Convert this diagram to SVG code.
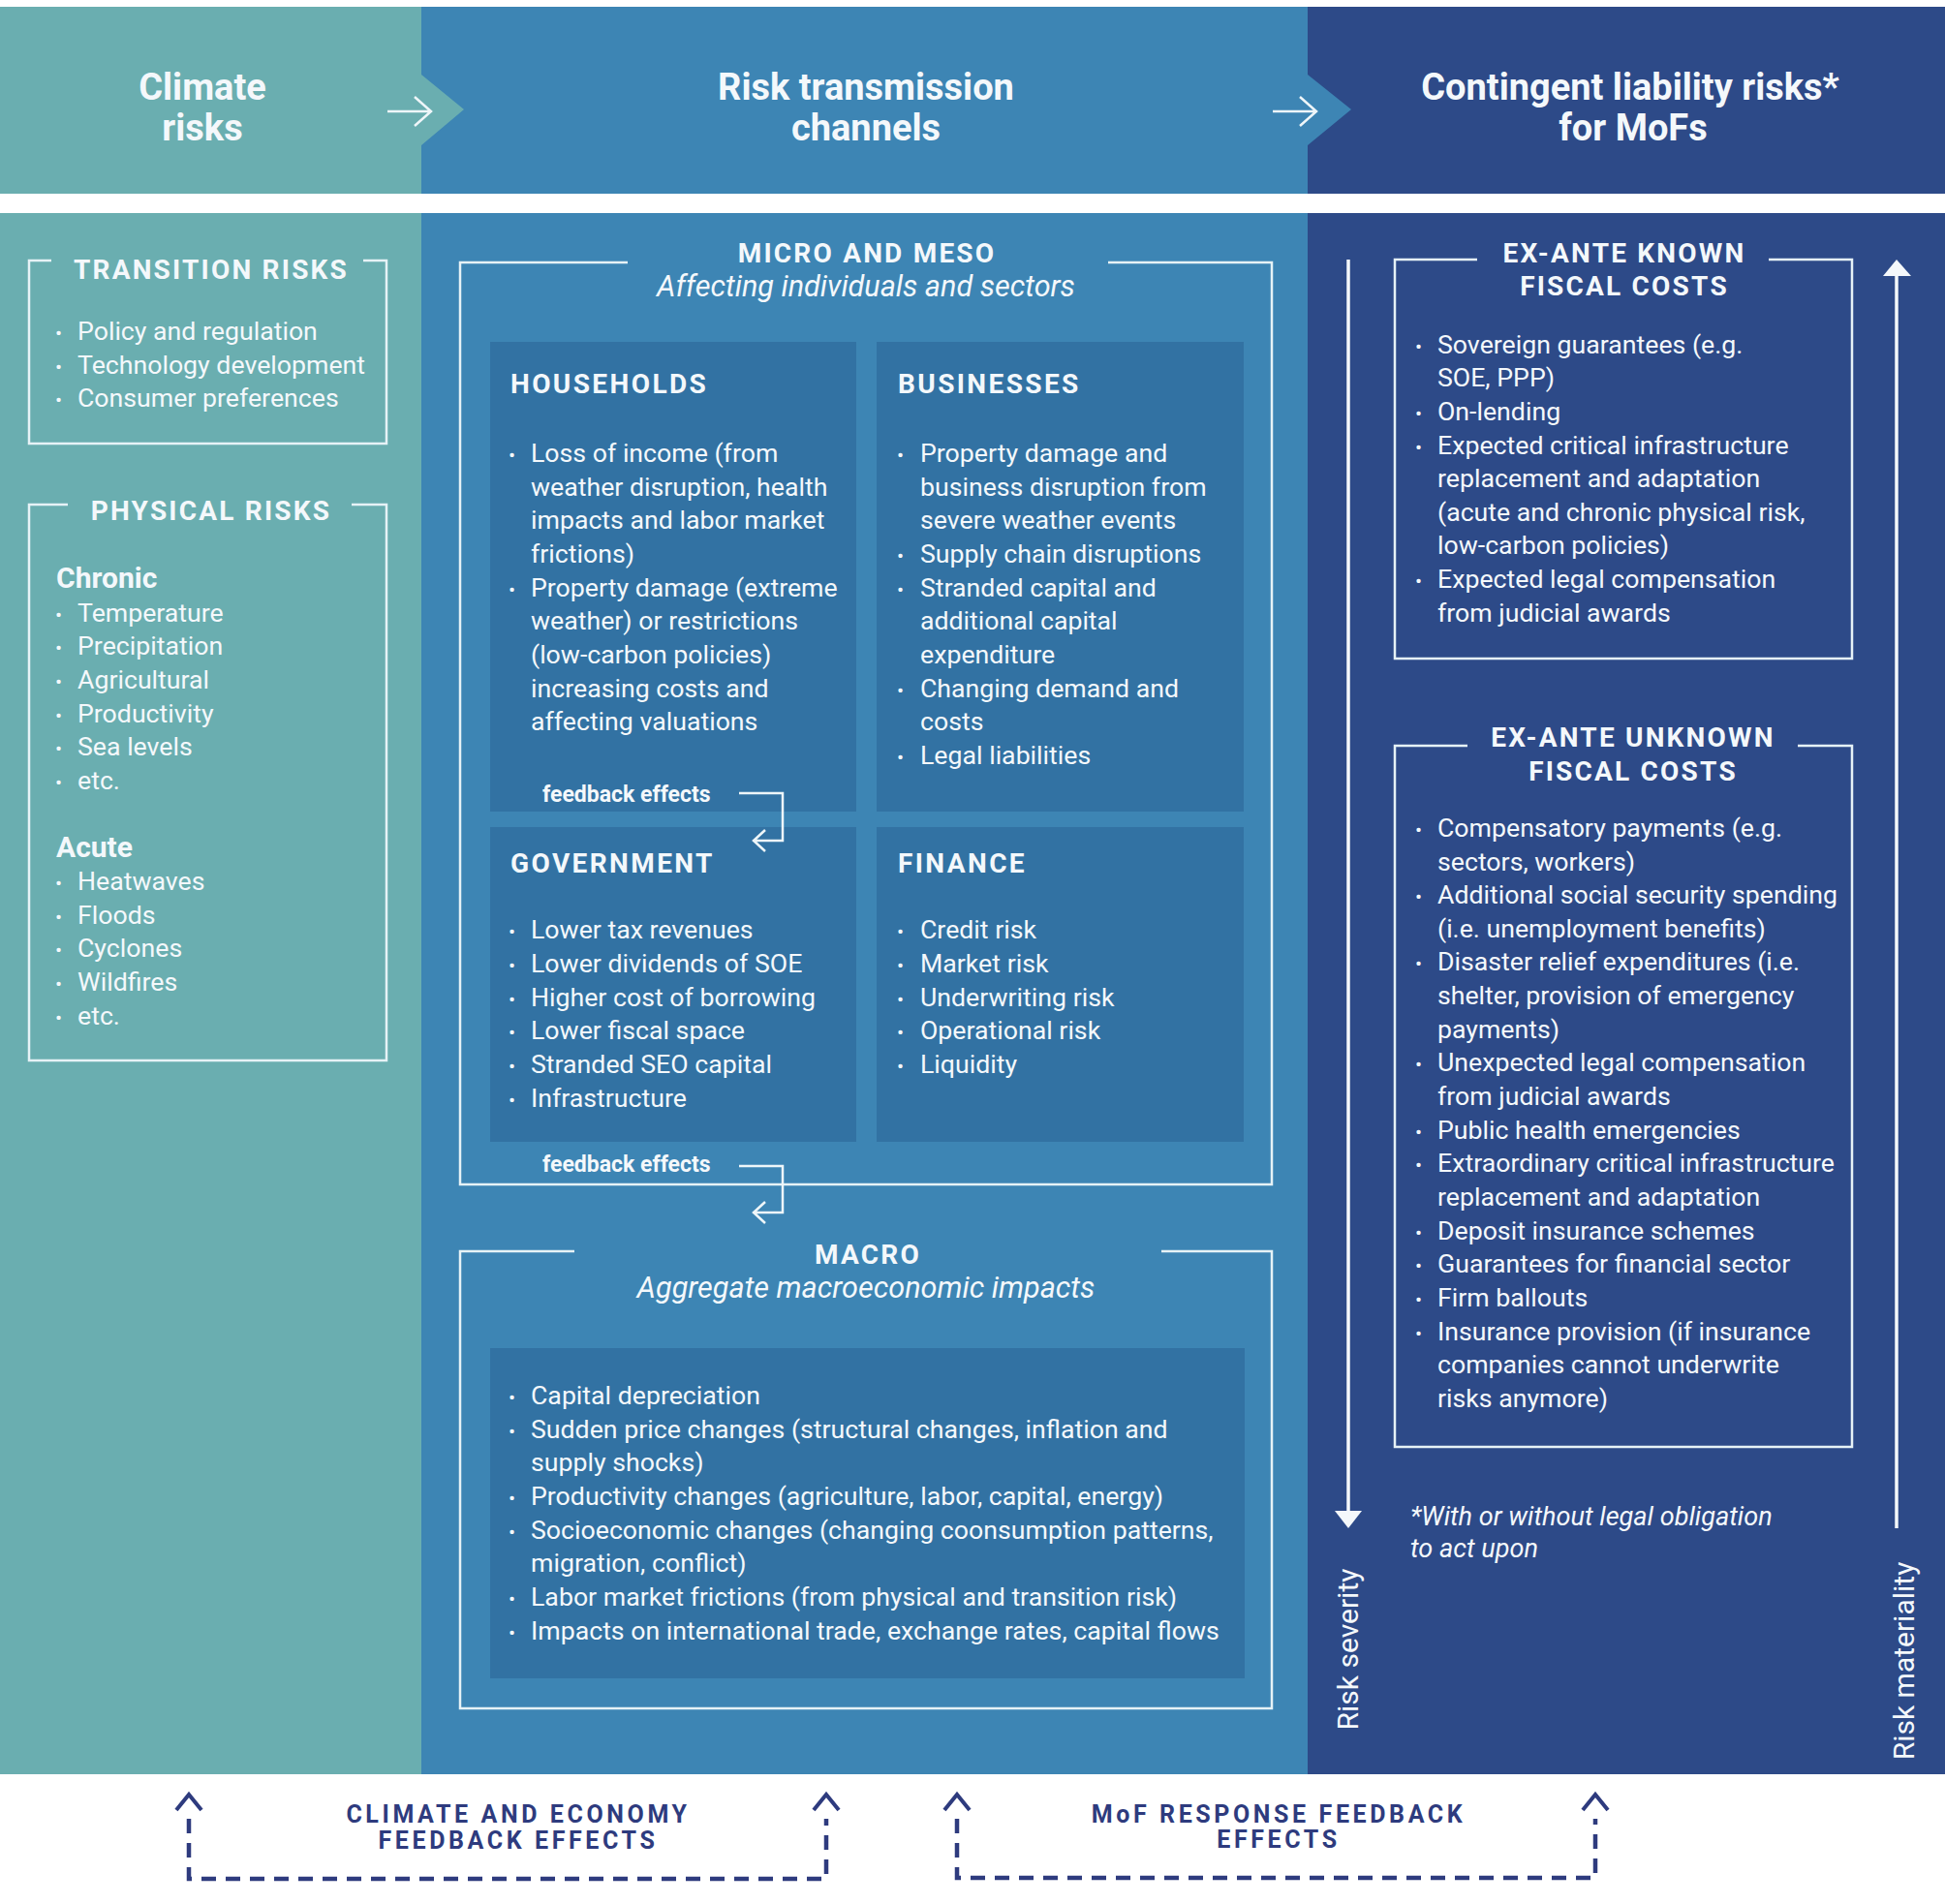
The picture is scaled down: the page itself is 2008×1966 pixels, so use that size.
<svg xmlns="http://www.w3.org/2000/svg" width="2008" height="1966" viewBox="0 0 2008 1966">
<style>
text{font-family:Roboto,"Liberation Sans",sans-serif;fill:#f4f8fb}
.hd{font-size:38px;font-weight:700;text-anchor:middle}
.t{font-size:26.7px}
.b{font-size:21px}
.lt{font-size:28px;font-weight:700;letter-spacing:2.2px;text-anchor:middle}
.sh{font-size:30px;font-weight:700}
.st{font-size:28px;font-weight:700;letter-spacing:2.4px}
.ct{font-size:28px;font-weight:700;letter-spacing:2.2px;text-anchor:middle}
.sub{font-size:30.6px;font-style:italic;text-anchor:middle}
.rt{font-size:28px;font-weight:700;letter-spacing:2.2px;text-anchor:middle}
.fb{font-size:23px;font-weight:700}
.it{font-size:27.1px;font-style:italic}
.rot{font-size:30px;text-anchor:middle}
.ft{font-size:25px;font-weight:700;letter-spacing:3.6px;text-anchor:middle;fill:#2e3b7e}
.ol{fill:none;stroke:#e6f2f6;stroke-width:2.5}
.con{fill:none;stroke:#eef6f9;stroke-width:2.5}
.dash{fill:none;stroke:#2e3b7e;stroke-width:4.5;stroke-dasharray:15 10}
.dh{fill:none;stroke:#2e3b7e;stroke-width:4}
.inner{fill:#3272a3}
</style>
<rect width="2008" height="1966" fill="#ffffff"/>

<!-- body columns -->
<g id="col-climate">
<rect x="0" y="220" width="436" height="1612" fill="#6aaeb0"/>
</g>
<g id="col-transmission">
<rect x="435" y="220" width="916" height="1612" fill="#3d85b4"/>
</g>
<g id="col-liability">
<rect x="1350" y="220" width="658" height="1612" fill="#2d4a88"/>
</g>

<!-- header -->
<g id="header">
<rect x="1350" y="7" width="658" height="193" fill="#2d4a88"/>
<polygon points="435,7 1350,7 1350,77 1395,113 1350,150 1350,200 435,200" fill="#3d85b4"/>
<polygon points="0,7 435,7 435,77 479,113 435,150 435,200 0,200" fill="#6aaeb0"/>
<text class="hd" x="209" y="103">Climate</text>
<text class="hd" x="209" y="145">risks</text>
<text class="hd" x="894" y="103">Risk transmission</text>
<text class="hd" x="894" y="145">channels</text>
<text class="hd" x="1683" y="103">Contingent liability risks*</text>
<text class="hd" x="1686" y="145">for MoFs</text>
<g class="con" stroke-width="3">
<path d="M400 115 H445 M428 100 L445 115 L428 130"/>
<path d="M1314 115 H1359 M1342 100 L1359 115 L1342 130"/>
</g>
</g>

<!-- left column -->
<g id="transition-risks">
<path class="ol" d="M53 269 H30 V458 H399 V269 H375"/>
<text class="lt" x="218" y="288">TRANSITION RISKS</text>
<text class="b" x="57" y="351">•</text><text class="t" x="80" y="351">Policy and regulation</text>
<text class="b" x="57" y="386">•</text><text class="t" x="80" y="386">Technology development</text>
<text class="b" x="57" y="420">•</text><text class="t" x="80" y="420">Consumer preferences</text>
</g>
<g id="physical-risks">
<path class="ol" d="M70 521 H30 V1095 H399 V521 H363"/>
<text class="lt" x="218" y="537">PHYSICAL RISKS</text>
<text class="sh" x="58" y="607">Chronic</text>
<text class="b" x="57" y="642">•</text><text class="t" x="80" y="642">Temperature</text>
<text class="b" x="57" y="676">•</text><text class="t" x="80" y="676">Precipitation</text>
<text class="b" x="57" y="711">•</text><text class="t" x="80" y="711">Agricultural</text>
<text class="b" x="57" y="746">•</text><text class="t" x="80" y="746">Productivity</text>
<text class="b" x="57" y="780">•</text><text class="t" x="80" y="780">Sea levels</text>
<text class="b" x="57" y="815">•</text><text class="t" x="80" y="815">etc.</text>
<text class="sh" x="58" y="885">Acute</text>
<text class="b" x="57" y="919">•</text><text class="t" x="80" y="919">Heatwaves</text>
<text class="b" x="57" y="954">•</text><text class="t" x="80" y="954">Floods</text>
<text class="b" x="57" y="988">•</text><text class="t" x="80" y="988">Cyclones</text>
<text class="b" x="57" y="1023">•</text><text class="t" x="80" y="1023">Wildfires</text>
<text class="b" x="57" y="1058">•</text><text class="t" x="80" y="1058">etc.</text>
</g>

<!-- middle column -->
<g id="micro-meso">
<path class="ol" d="M648 271 H475 V1223 H1313 V271 H1144"/>
<text class="ct" x="895" y="271">MICRO AND MESO</text>
<text class="sub" x="894" y="306">Affecting individuals and sectors</text>
</g>
<g id="households">
<rect class="inner" x="506" y="353" width="378" height="485"/>
<text class="st" x="527" y="406">HOUSEHOLDS</text>
<text class="b" x="525" y="477">•</text><text class="t" x="548" y="477">Loss of income (from</text>
<text class="t" x="548" y="512">weather disruption, health</text>
<text class="t" x="548" y="546">impacts and labor market</text>
<text class="t" x="548" y="581">frictions)</text>
<text class="b" x="525" y="616">•</text><text class="t" x="548" y="616">Property damage (extreme</text>
<text class="t" x="548" y="650">weather) or restrictions</text>
<text class="t" x="548" y="685">(low-carbon policies)</text>
<text class="t" x="548" y="720">increasing costs and</text>
<text class="t" x="548" y="754">affecting valuations</text>
</g>
<g id="businesses">
<rect class="inner" x="905" y="353" width="379" height="485"/>
<text class="st" x="927" y="406">BUSINESSES</text>
<text class="b" x="926" y="477">•</text><text class="t" x="950" y="477">Property damage and</text>
<text class="t" x="950" y="512">business disruption from</text>
<text class="t" x="950" y="546">severe weather events</text>
<text class="b" x="926" y="581">•</text><text class="t" x="950" y="581">Supply chain disruptions</text>
<text class="b" x="926" y="616">•</text><text class="t" x="950" y="616">Stranded capital and</text>
<text class="t" x="950" y="650">additional capital</text>
<text class="t" x="950" y="685">expenditure</text>
<text class="b" x="926" y="720">•</text><text class="t" x="950" y="720">Changing demand and</text>
<text class="t" x="950" y="754">costs</text>
<text class="b" x="926" y="789">•</text><text class="t" x="950" y="789">Legal liabilities</text>
</g>
<g id="government">
<rect class="inner" x="506" y="854" width="378" height="325"/>
<text class="st" x="527" y="901">GOVERNMENT</text>
<text class="b" x="525" y="969">•</text><text class="t" x="548" y="969">Lower tax revenues</text>
<text class="b" x="525" y="1004">•</text><text class="t" x="548" y="1004">Lower dividends of SOE</text>
<text class="b" x="525" y="1039">•</text><text class="t" x="548" y="1039">Higher cost of borrowing</text>
<text class="b" x="525" y="1073">•</text><text class="t" x="548" y="1073">Lower fiscal space</text>
<text class="b" x="525" y="1108">•</text><text class="t" x="548" y="1108">Stranded SEO capital</text>
<text class="b" x="525" y="1143">•</text><text class="t" x="548" y="1143">Infrastructure</text>
</g>
<g id="finance">
<rect class="inner" x="905" y="854" width="379" height="325"/>
<text class="st" x="927" y="901">FINANCE</text>
<text class="b" x="926" y="969">•</text><text class="t" x="950" y="969">Credit risk</text>
<text class="b" x="926" y="1004">•</text><text class="t" x="950" y="1004">Market risk</text>
<text class="b" x="926" y="1039">•</text><text class="t" x="950" y="1039">Underwriting risk</text>
<text class="b" x="926" y="1073">•</text><text class="t" x="950" y="1073">Operational risk</text>
<text class="b" x="926" y="1108">•</text><text class="t" x="950" y="1108">Liquidity</text>
</g>
<g id="macro">
<path class="ol" d="M593 1292 H475 V1764 H1313 V1292 H1199"/>
<text class="ct" x="896" y="1305">MACRO</text>
<text class="sub" x="894" y="1340">Aggregate macroeconomic impacts</text>
<rect class="inner" x="506" y="1392" width="779" height="341"/>
<text class="b" x="525" y="1450">•</text><text class="t" x="548" y="1450">Capital depreciation</text>
<text class="b" x="525" y="1485">•</text><text class="t" x="548" y="1485">Sudden price changes (structural changes, inflation and</text>
<text class="t" x="548" y="1519">supply shocks)</text>
<text class="b" x="525" y="1554">•</text><text class="t" x="548" y="1554">Productivity changes (agriculture, labor, capital, energy)</text>
<text class="b" x="525" y="1589">•</text><text class="t" x="548" y="1589">Socioeconomic changes (changing coonsumption patterns,</text>
<text class="t" x="548" y="1623">migration, conflict)</text>
<text class="b" x="525" y="1658">•</text><text class="t" x="548" y="1658">Labor market frictions (from physical and transition risk)</text>
<text class="b" x="525" y="1693">•</text><text class="t" x="548" y="1693">Impacts on international trade, exchange rates, capital flows</text>
</g>

<!-- right column -->
<g id="known-costs">
<path class="ol" d="M1525 268 H1440 V680 H1912 V268 H1826"/>
<text class="rt" x="1677" y="271">EX-ANTE KNOWN</text>
<text class="rt" x="1677" y="305">FISCAL COSTS</text>
<text class="b" x="1461" y="365">•</text><text class="t" x="1484" y="365">Sovereign guarantees (e.g.</text>
<text class="t" x="1484" y="399">SOE, PPP)</text>
<text class="b" x="1461" y="434">•</text><text class="t" x="1484" y="434">On-lending</text>
<text class="b" x="1461" y="469">•</text><text class="t" x="1484" y="469">Expected critical infrastructure</text>
<text class="t" x="1484" y="503">replacement and adaptation</text>
<text class="t" x="1484" y="538">(acute and chronic physical risk,</text>
<text class="t" x="1484" y="572">low-carbon policies)</text>
<text class="b" x="1461" y="607">•</text><text class="t" x="1484" y="607">Expected legal compensation</text>
<text class="t" x="1484" y="642">from judicial awards</text>
</g>
<g id="unknown-costs">
<path class="ol" d="M1515 770 H1440 V1494 H1912 V770 H1856"/>
<text class="rt" x="1686" y="771">EX-ANTE UNKNOWN</text>
<text class="rt" x="1686" y="806">FISCAL COSTS</text>
<text class="b" x="1461" y="864">•</text><text class="t" x="1484" y="864">Compensatory payments (e.g.</text>
<text class="t" x="1484" y="899">sectors, workers)</text>
<text class="b" x="1461" y="933">•</text><text class="t" x="1484" y="933">Additional social security spending</text>
<text class="t" x="1484" y="968">(i.e. unemployment benefits)</text>
<text class="b" x="1461" y="1002">•</text><text class="t" x="1484" y="1002">Disaster relief expenditures (i.e.</text>
<text class="t" x="1484" y="1037">shelter, provision of emergency</text>
<text class="t" x="1484" y="1072">payments)</text>
<text class="b" x="1461" y="1106">•</text><text class="t" x="1484" y="1106">Unexpected legal compensation</text>
<text class="t" x="1484" y="1141">from judicial awards</text>
<text class="b" x="1461" y="1176">•</text><text class="t" x="1484" y="1176">Public health emergencies</text>
<text class="b" x="1461" y="1210">•</text><text class="t" x="1484" y="1210">Extraordinary critical infrastructure</text>
<text class="t" x="1484" y="1245">replacement and adaptation</text>
<text class="b" x="1461" y="1280">•</text><text class="t" x="1484" y="1280">Deposit insurance schemes</text>
<text class="b" x="1461" y="1314">•</text><text class="t" x="1484" y="1314">Guarantees for financial sector</text>
<text class="b" x="1461" y="1349">•</text><text class="t" x="1484" y="1349">Firm ballouts</text>
<text class="b" x="1461" y="1384">•</text><text class="t" x="1484" y="1384">Insurance provision (if insurance</text>
<text class="t" x="1484" y="1418">companies cannot underwrite</text>
<text class="t" x="1484" y="1453">risks anymore)</text>
</g>
<g id="footnote">
<text class="it" x="1456" y="1575">*With or without legal obligation</text>
<text class="it" x="1456" y="1608">to act upon</text>
</g>
<g id="axis-severity">
<line x1="1392" y1="268" x2="1392" y2="1562" stroke="#f4f8fb" stroke-width="3.5"/>
<polygon points="1378,1560 1406,1560 1392,1578" fill="#f4f8fb"/>
<text class="rot" transform="translate(1402 1703) rotate(-90)">Risk severity</text>
</g>
<g id="axis-materiality">
<line x1="1958" y1="1578" x2="1958" y2="282" stroke="#f4f8fb" stroke-width="3.5"/>
<polygon points="1944,285 1973,285 1958,268" fill="#f4f8fb"/>
<text class="rot" transform="translate(1976 1715) rotate(-90)">Risk materiality</text>
</g>

<!-- connectors -->
<g id="connectors">
<text class="fb" x="560" y="828">feedback effects</text>
<path class="con" d="M763 819 H808 V868 H779 M790 857 L778 868 L790 879"/>
<text class="fb" x="560" y="1210">feedback effects</text>
<path class="con" d="M763 1204 H808 V1252 H779 M790 1241 L778 1252 L790 1263"/>
<path class="dash" d="M195 1878 V1940 H853 V1878"/>
<path class="dh" d="M182 1869 L195 1853 L208 1869"/>
<path class="dh" d="M840 1869 L853 1853 L866 1869"/>
<path class="dash" d="M988 1878 V1939 H1647 V1878"/>
<path class="dh" d="M975 1869 L988 1853 L1001 1869"/>
<path class="dh" d="M1634 1869 L1647 1853 L1660 1869"/>
</g>
<g id="footer-labels">
<text class="ft" x="535" y="1882">CLIMATE AND ECONOMY</text>
<text class="ft" x="535" y="1909">FEEDBACK EFFECTS</text>
<text class="ft" x="1320" y="1882">MoF RESPONSE FEEDBACK</text>
<text class="ft" x="1320" y="1908">EFFECTS</text>
</g>
</svg>
